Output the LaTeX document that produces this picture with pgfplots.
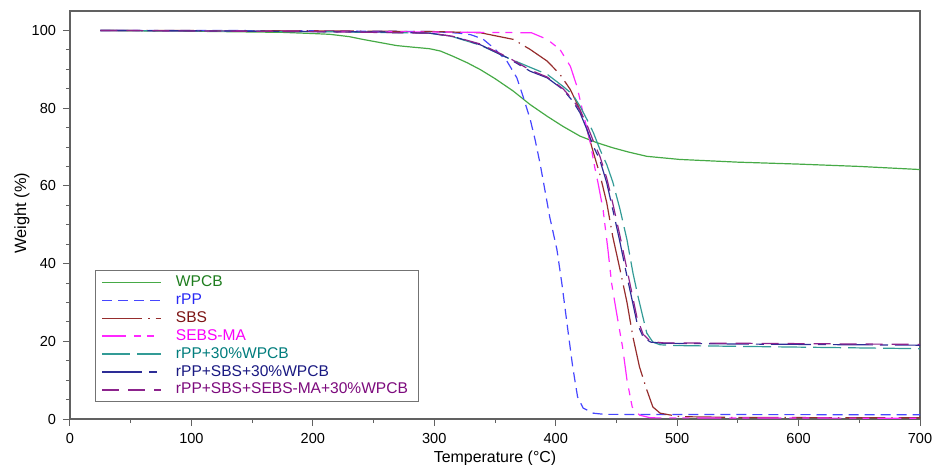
\documentclass[border=0pt]{standalone}
\usepackage{pgfplots}
\pgfplotsset{compat=1.18}
\usepackage{fontspec}
\setmainfont{Liberation Sans}

\definecolor{cWPCB}{RGB}{70,170,70}
\definecolor{tWPCB}{RGB}{30,125,30}
\definecolor{cRPP}{RGB}{70,70,255}
\definecolor{tRPP}{RGB}{40,40,245}
\definecolor{cSBS}{RGB}{150,45,45}
\definecolor{tSBS}{RGB}{125,20,20}
\definecolor{cSEBS}{RGB}{255,40,255}
\definecolor{tSEBS}{RGB}{250,0,250}
\definecolor{cT}{RGB}{50,155,150}
\definecolor{tT}{RGB}{0,125,125}
\definecolor{cN}{RGB}{45,45,150}
\definecolor{tN}{RGB}{25,25,130}
\definecolor{cP}{RGB}{140,35,140}
\definecolor{tP}{RGB}{125,10,125}

\begin{document}
\begin{tikzpicture}
\begin{axis}[
  name=ax,
  scale only axis,
  width=425bp, height=204bp,
  xmin=0, xmax=700, ymin=0, ymax=105,
  xtick={0,100,...,700},
  ytick={0,20,...,100},
  minor x tick num=1,
  minor y tick num=3,
  tick align=outside,
  xtick pos=bottom, ytick pos=left,
  major tick length=3.5bp,
  minor tick length=2bp,
  axis line style={black!62, line width=0.6bp},
  every tick/.style={black!62, line width=0.5bp},
  tick label style={font=\fontsize{7.3}{8.5}\selectfont},
  /pgf/number format/assume math mode=true,
  every axis y label/.style={at={(axis description cs:-0.0565,0.505)}, rotate=90, anchor=center, font=\fontsize{8.2}{9.5}\selectfont},
  every axis x label/.style={at={(axis description cs:0.5,-0.0956)}, anchor=center, font=\fontsize{8}{9.5}\selectfont},
  xlabel={Temperature (°C)},
  ylabel={Weight (\%)},
  legend image code/.code={\draw[#1, line width=0.75bp] (0bp,0bp) -- (29.5bp,0bp);},
  legend style={at={(0.0294,0.365)}, anchor=north west, draw=black!55, line width=0.5bp,
    font=\fontsize{7.8}{8.8}\selectfont, inner xsep=3bp, inner ysep=1.5bp,
    row sep=0bp, column sep=4.5bp,
    nodes={inner ysep=0bp, inner xsep=2.5bp, text height=6.5bp, text depth=2.45bp},
    cells={anchor=west}},
  every axis plot/.append style={line width=0.6bp},
]
\addplot[cWPCB] table {
25 100.0
50 99.9
100 99.8
150 99.6
175 99.5
200 99.2
214 99.0
230 98.4
241 97.7
255 96.9
269 96.1
282 95.7
296 95.3
305 94.7
315 93.4
327 91.7
338 89.9
350 87.6
365 84.4
379 80.9
393 77.9
406 75.3
420 72.8
434 71.1
447 69.8
460 68.7
475 67.6
502 66.8
550 66.1
600 65.6
650 65.0
700 64.2
};
\addlegendentry{\textcolor{tWPCB}{WPCB}}
\addplot[cRPP, dash pattern=on 5bp off 3bp] table {
25 100.0
100 100.0
200 99.9
300 99.7
320 99.3
330 98.9
340 97.8
350 95.2
360 92.0
368 87.8
373 83.1
379 77.1
383 71.9
387 65.9
390 60.8
395 52.1
401 43.6
405 35.0
410 22.9
414 13.4
418 5.7
422.6 2.8
431 1.5
440 1.2
500 1.15
700 1.1
};
\addlegendentry{\textcolor{tRPP}{rPP}}
\addplot[cSBS, dash pattern=on 20bp off 3bp on 0.7bp off 3bp] table {
25 100.0
200 99.9
300 99.7
338 99.4
365 97.7
379 95.1
393 92.1
403.5 88.7
412 84.8
420 79.6
425.7 74.5
431 68.6
436.5 62.8
442 55.7
447 46.9
453 38.4
458.7 30.0
463.6 21.1
469 13.4
475 7.5
480 3.1
486 1.5
502 0.6
550 0.4
700 0.3
};
\addlegendentry{\textcolor{tSBS}{SBS}}
\addplot[cSEBS, dash pattern=on 12bp off 4bp on 3.5bp off 3bp on 3.5bp off 4bp] table {
25 100.0
300 99.6
380 99.4
393 97.7
403.5 95.1
412 90.8
417.5 85.6
422.5 78.8
428 71.9
432 65.0
435 60.5
439 53.9
443 43.6
446 35.0
450 27.5
455 18.6
458.7 10.0
463 3.1
469 1.0
478 0.3
700 0.2
};
\addlegendentry{\textcolor{tSEBS}{SEBS-MA}}
\addplot[cT, dash pattern=on 14bp off 3.5bp] table {
25 100.0
200 99.7
296 99.3
315 98.4
338 96.2
360 93.0
379 90.5
393 88.7
406 85.6
414 83.5
420 80.5
425.7 77.1
431 73.7
436.5 69.3
442 65.5
447 61.0
453 53.9
458.7 46.1
463.6 37.6
467.8 31.5
471 27.3
475 22.1
480 19.8
486 19.1
500 18.9
600 18.5
700 18.1
};
\addlegendentry{\textcolor{tT}{rPP+30\%WPCB}}
\addplot[cN, dash pattern=on 20bp off 3.5bp on 4bp off 3.5bp] table {
25 100.0
100 99.9
200 99.7
255 99.6
296 99.3
315 98.5
338 96.3
360 93.0
379 89.5
393 87.8
406 84.8
414 81.8
420 78.8
425.7 74.5
431 70.2
436.5 66.5
442 60.8
447 53.9
453 45.4
458.7 36.7
463 30.5
467 24.7
472 21.1
478 19.8
488 19.5
550 19.3
600 19.2
700 19.0
};
\addlegendentry{\textcolor{tN}{rPP+SBS+30\%WPCB}}
\addplot[cP, dash pattern=on 8.5bp off 4.5bp] table {
25 100.0
200 99.7
296 99.3
315 98.5
338 96.5
360 93.2
379 89.8
393 88.0
406 85.0
414 82.2
420 79.5
426 75.5
431 71.5
436.5 67.5
442 62.0
447 55.5
453 47.0
458.7 38.5
463 32.0
467 26.0
472 21.8
478 20.0
488 19.6
600 19.4
700 19.2
};
\addlegendentry{\textcolor{tP}{rPP+SBS+SEBS-MA+30\%WPCB}}
\end{axis}
\pgfresetboundingbox
\path ([xshift=-35bp,yshift=-22.5bp]ax.south west) rectangle ([xshift=6.5bp,yshift=5.5bp]ax.north east);
\end{tikzpicture}
\end{document}
